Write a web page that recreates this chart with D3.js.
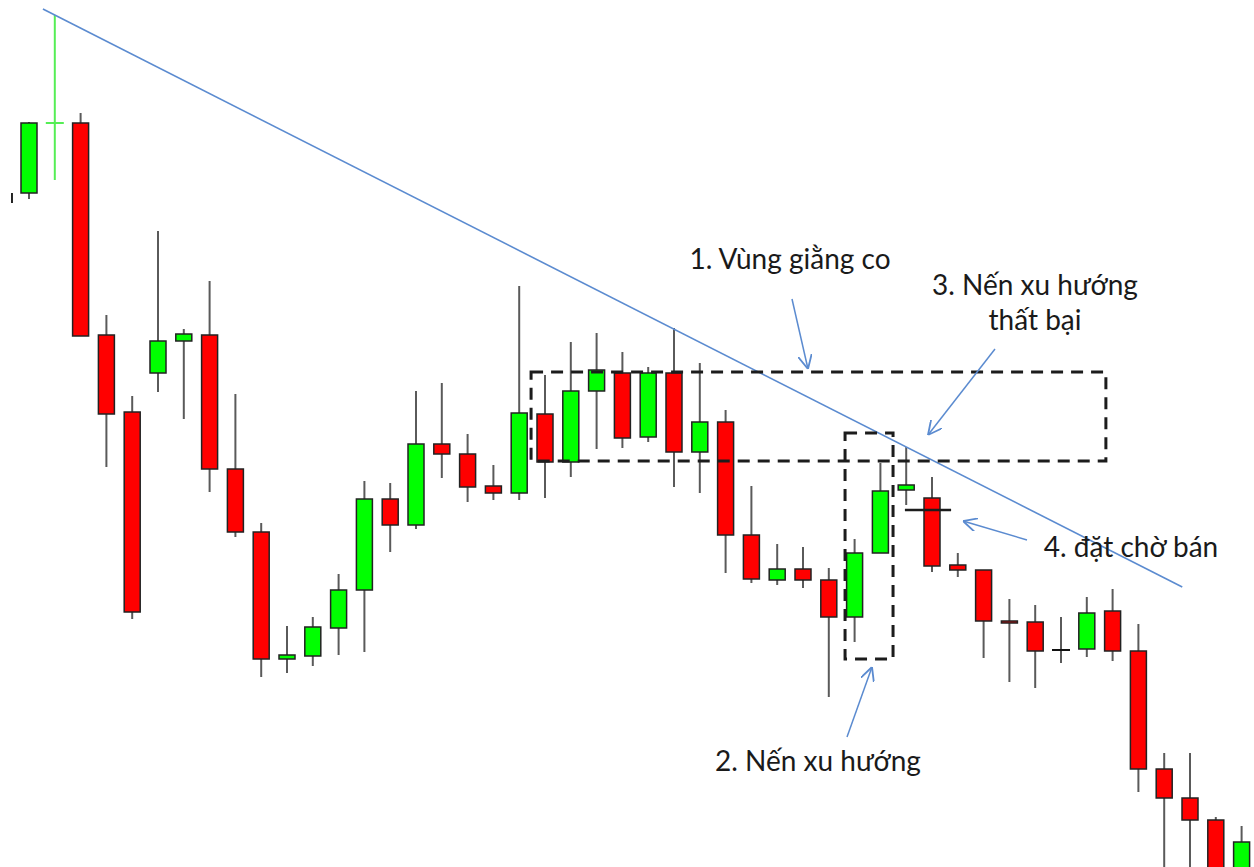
<!DOCTYPE html>
<html>
<head>
<meta charset="utf-8">
<script src="https://cdn.jsdelivr.net/npm/d3@7"></script>
<style>
  html, body { margin: 0; padding: 0; background: #fff; }
  #chart { width: 1254px; height: 867px; overflow: hidden; }
  text { font-family: Lato, "Open Sans", sans-serif; }
</style>
</head>
<body>
<div id="chart"></div>
<script>
// candle data, price in points
const opens  = [707, 777, 777, 565, 488, 527, 559, 565, 431, 368, 241, 244, 272, 310, 401, 375, 456, 446, 414, 407, 486, 438, 509, 527, 463, 527, 448, 478, 365, 320, 331, 320, 283, 347, 410, 402, 335, 330, 279, 278, 250, 251, 289, 249, 131, 102, 80, 20];
const closes = [777, 777, 564, 486, 288, 559, 566, 431, 368, 241, 245, 273, 310, 401, 375, 456, 446, 413, 407, 487, 438, 509, 530, 462, 527, 448, 478, 365, 321, 331, 320, 283, 347, 409, 415, 334, 330, 279, 277, 249, 250, 287, 249, 131, 102, 80, 20, 58];
const highs  = [778, 885, 787, 585, 504, 669, 571, 619, 506, 377, 274, 283, 326, 419, 417, 509, 517, 466, 435, 614, 525, 558, 567, 548, 533, 572, 537, 490, 414, 356, 353, 332, 361, 437, 453, 423, 347, 330, 301, 295, 283, 303, 311, 276, 147, 147, 83, 74];
const lows   = [701, 720, 564, 433, 281, 508, 481, 408, 363, 223, 227, 234, 245, 248, 348, 371, 422, 398, 400, 400, 402, 423, 451, 452, 458, 413, 407, 327, 317, 315, 312, 203, 258, 347, 395, 328, 323, 242, 218, 212, 237, 243, 239, 108, 30, 20, 10, 10];
// special colouring: 1 = bright green doji, 40 = black doji
const specials = { 1: "#55ee55", 40: "#111" };
// clipped candle at the left edge (index, high, low)
const edgeStub = [-0.66, 707, 697];

// annotation geometry in chart units (candle index / price)
const trend = [[0.54, 891], [44.7, 313]];
const zoneBox = { x0: 19.46, x1: 41.74, p0: 528, p1: 439 };
const candleBox = { x0: 31.63, x1: 33.49, p0: 467, p1: 241 };
const sellLine = { x0: 33.95, x1: 35.74, p: 390 };

const labels = [
  { lines: ["1. Vùng giằng co"], x: 790, y: 269 },
  { lines: ["3. Nến xu hướng", "thất bại"], x: 1035, y: 295 },
  { lines: ["4. đặt chờ bán"], x: 1131, y: 557 },
  { lines: ["2. Nến xu hướng"], x: 818, y: 771 }
];
const arrows = [
  [[792, 299], [808, 369]],
  [[995, 349], [928, 435]],
  [[1027, 540], [963, 521]],
  [[847, 737], [872, 667]]
];

const width = 1254, height = 867;

const x = d3.scaleLinear().domain([0, 47]).range([29, 1241.6]);
const y = d3.scaleLinear().domain([0, 900]).range([900, 0]);
const bodyW = 16;

const candles = opens.map((o, i) => ({ i, o, c: closes[i], h: highs[i], l: lows[i] }));

const svg = d3.select("#chart")
  .append("svg")
  .attr("width", width)
  .attr("height", height);

svg.append("line")
  .attr("x1", x(edgeStub[0])).attr("x2", x(edgeStub[0]))
  .attr("y1", y(edgeStub[1])).attr("y2", y(edgeStub[2]))
  .attr("stroke", "#222")
  .attr("stroke-width", 2);

// wicks
svg.selectAll(".wick")
  .data(candles)
  .enter()
  .append("line")
  .attr("class", "wick")
  .attr("x1", d => x(d.i))
  .attr("x2", d => x(d.i))
  .attr("y1", d => y(d.h))
  .attr("y2", d => y(d.l))
  .attr("stroke", d => d.i === 1 ? specials[1] : "#5a5a5a")
  .attr("stroke-width", 2);

// bodies
const normal = candles.filter(d => !specials[d.i]);
svg.selectAll(".body")
  .data(normal)
  .enter()
  .append("rect")
  .attr("class", "body")
  .attr("x", d => x(d.i) - bodyW / 2)
  .attr("y", d => y(Math.max(d.o, d.c)))
  .attr("width", bodyW)
  .attr("height", d => Math.max(1, Math.abs(y(d.o) - y(d.c))))
  .attr("fill", d => d.c > d.o ? "#00ff00" : "#ff0000")
  .attr("stroke", "#222")
  .attr("stroke-width", 1.5);

// doji ticks
const dojis = candles.filter(d => specials[d.i]);
svg.selectAll(".doji")
  .data(dojis)
  .enter()
  .append("line")
  .attr("class", "doji")
  .attr("x1", d => x(d.i) - 9)
  .attr("x2", d => x(d.i) + 9)
  .attr("y1", d => y(d.o))
  .attr("y2", d => y(d.o))
  .attr("stroke", d => specials[d.i])
  .attr("stroke-width", 2);

// trend line
svg.append("line")
  .attr("x1", x(trend[0][0])).attr("y1", y(trend[0][1]))
  .attr("x2", x(trend[1][0])).attr("y2", y(trend[1][1]))
  .attr("stroke", "#5b8bd0")
  .attr("stroke-width", 1.6);

// dashed boxes
[zoneBox, candleBox].forEach(b => {
  svg.append("rect")
    .attr("x", x(b.x0))
    .attr("y", y(b.p0))
    .attr("width", x(b.x1) - x(b.x0))
    .attr("height", y(b.p1) - y(b.p0))
    .attr("fill", "none")
    .attr("stroke", "#1c1c1c")
    .attr("stroke-width", 3)
    .attr("stroke-dasharray", "12,8");
});

// pending sell line
svg.append("line")
  .attr("x1", x(sellLine.x0)).attr("x2", x(sellLine.x1))
  .attr("y1", y(sellLine.p)).attr("y2", y(sellLine.p))
  .attr("stroke", "#1c1c1c")
  .attr("stroke-width", 2.5);

// arrows
svg.append("defs").append("marker")
  .attr("id", "head")
  .attr("viewBox", "0 0 10 10")
  .attr("refX", 10).attr("refY", 5)
  .attr("markerWidth", 14).attr("markerHeight", 14)
  .attr("markerUnits", "userSpaceOnUse")
  .attr("orient", "auto")
  .append("path")
  .attr("d", "M0,0 L10,5 L0,10")
  .attr("fill", "none")
  .attr("stroke", "#5b8bd0")
  .attr("stroke-width", 1.3);

svg.selectAll(".arrow")
  .data(arrows)
  .enter()
  .append("line")
  .attr("class", "arrow")
  .attr("x1", d => d[0][0]).attr("y1", d => d[0][1])
  .attr("x2", d => d[1][0]).attr("y2", d => d[1][1])
  .attr("stroke", "#5b8bd0")
  .attr("stroke-width", 1.5)
  .attr("marker-end", "url(#head)");

// labels
labels.forEach(l => {
  const t = svg.append("text")
    .attr("x", l.x)
    .attr("y", l.y)
    .attr("text-anchor", "middle")
    .attr("font-size", 28)
    .attr("fill", "#1a1a1a");
  l.lines.forEach((s, k) => {
    t.append("tspan").attr("x", l.x).attr("dy", k ? 35 : 0).text(s);
  });
});
</script>
</body>
</html>
